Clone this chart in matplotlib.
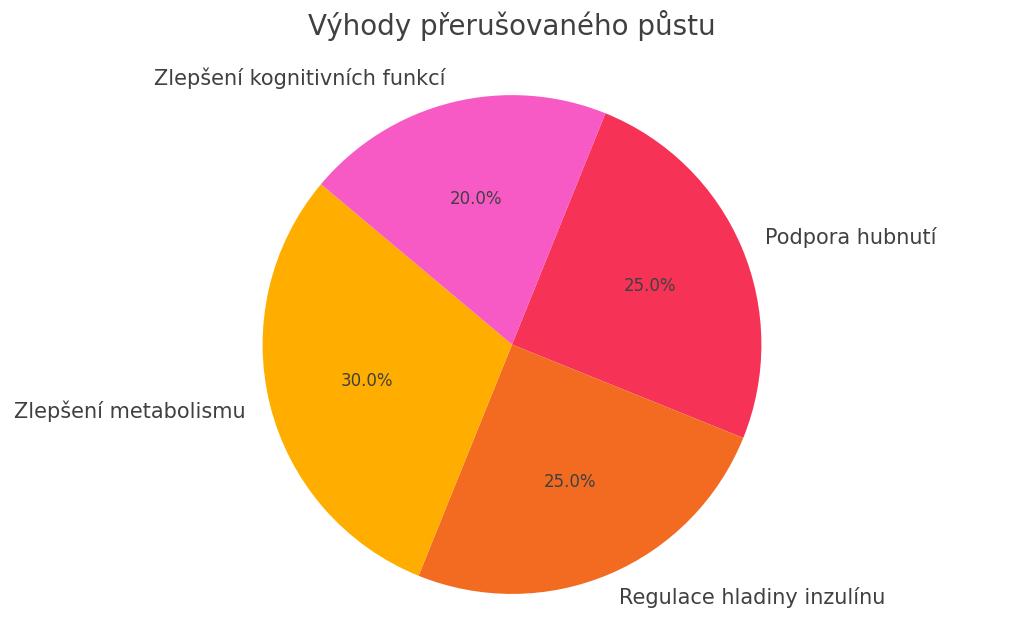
import matplotlib
matplotlib.use("Agg")
import matplotlib.pyplot as plt

labels = ["Podpora hubnutí", "Regulace hladiny inzulínu", "Zlepšení metabolismu", "Zlepšení kognitivních funkcí"]
values = [25, 25, 30, 20]
colors = ["#F73257", "#F26B21", "#FFAE00", "#F75AC4"]

plt.rcParams['font.family'] = ['DejaVu Sans']
fig = plt.figure(figsize=(10.24, 6.38), dpi=100)
ax = fig.add_axes([0.05, 0.03, 0.9, 0.86])
wedges, texts, autotexts = ax.pie(values, labels=labels, colors=colors, autopct='%1.1f%%',
                                  startangle=68, counterclock=False,
                                  textprops={'color': '#404040', 'fontsize': 15})
for t in autotexts:
    t.set_fontsize(12)
ax.axis('equal')
fig.suptitle("Výhody přerušovaného půstu", fontsize=20, color='#404040', y=0.985)
fig.savefig("out.png", dpi=100)
